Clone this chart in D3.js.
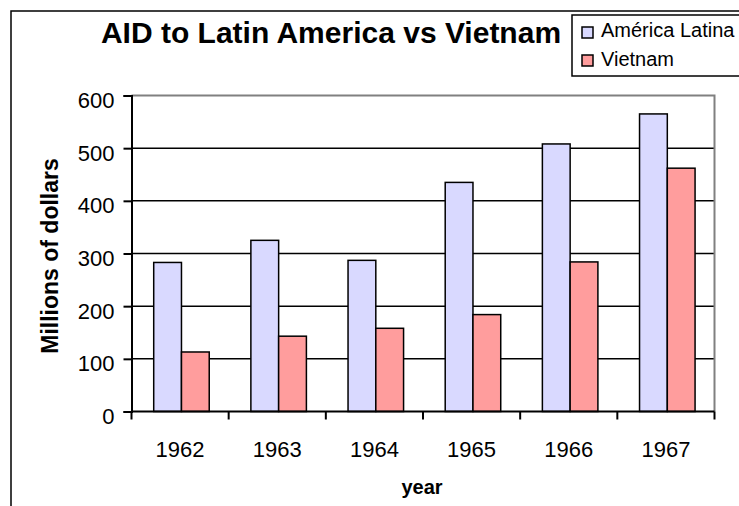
<!DOCTYPE html>
<html>
<head>
<meta charset="utf-8">
<script src="https://cdn.jsdelivr.net/npm/d3@7"></script>
<style>
  body { margin: 0; background: #fff; }
  text { font-family: Arial, "Liberation Sans", sans-serif; fill: #000; }
</style>
</head>
<body>
<script>
const years = ["1962", "1963", "1964", "1965", "1966", "1967"]
const latinAmerica = [283, 325, 287, 435, 508, 565]
const vietnam = [113, 143, 158, 184, 284, 462]
const seriesNames = ["América Latina", "Vietnam"]
const yTicks = [0, 100, 200, 300, 400, 500, 600]

const width = 739
const height = 506
const plotLeft = 131.5
const plotRight = 714.5
const plotTop = 95.5
const plotBottom = 411.5
const colors = ["#d9d9ff", "#ff9d9d"]

const svg = d3.select("body").append("svg")
  .attr("width", width)
  .attr("height", height)

// outer chart border (runs off the window on right and bottom)
svg.append("rect")
  .attr("x", 11).attr("y", 11)
  .attr("width", 760).attr("height", 520)
  .attr("fill", "none")
  .attr("stroke", "#000")
  .attr("stroke-width", 1.5)

const x = d3.scaleBand().domain(years).range([plotLeft, plotRight]).padding(0)
const y = d3.scaleLinear().domain([0, 600]).range([plotBottom, plotTop])

const barW = x.bandwidth() / 3.5
const pad = barW * 0.8

// grid lines
svg.append("g").selectAll("line")
  .data(yTicks.filter(d => d > 0 && d < 600))
  .enter().append("line")
  .attr("x1", plotLeft).attr("x2", plotRight)
  .attr("y1", d => y(d)).attr("y2", d => y(d))
  .attr("stroke", "#000").attr("stroke-width", 1.5)

// plot area border (top/right, gray)
svg.append("path")
  .attr("d", `M${plotLeft},${y(600)}H${plotRight}V${y(0)}`)
  .attr("fill", "none")
  .attr("stroke", "#808080")
  .attr("stroke-width", 2)

const data = years.map((yr, i) => ({ year: yr, values: [latinAmerica[i], vietnam[i]] }))

const groups = svg.selectAll(".grp")
  .data(data)
  .enter().append("g")
  .attr("class", "grp")
  .attr("transform", d => "translate(" + (x(d.year) + pad) + ",0)")

groups.selectAll("rect")
  .data(d => d.values)
  .enter().append("rect")
  .attr("x", (d, i) => i * barW)
  .attr("y", d => y(d))
  .attr("width", barW)
  .attr("height", d => y(0) - y(d))
  .attr("fill", (d, i) => colors[i])
  .attr("stroke", "#000")
  .attr("stroke-width", 1.5)

// y axis
const yAxis = d3.axisLeft(y).tickValues(yTicks).tickSize(8).tickPadding(9)
const yAxisGroup = svg.append("g")
  .attr("transform", "translate(" + plotLeft + ",0)")
  .call(yAxis)
yAxisGroup.select(".domain").attr("stroke", "#000").attr("stroke-width", 2)
yAxisGroup.selectAll(".tick line").attr("stroke", "#000").attr("stroke-width", 2)
yAxisGroup.selectAll(".tick text")
  .attr("y", 5)
  .style("font-family", "Arial, 'Liberation Sans', sans-serif")
  .style("font-size", "22px")

// x axis: ticks at category boundaries
const xAxisGroup = svg.append("g")
  .attr("transform", "translate(0," + plotBottom + ")")
xAxisGroup.append("line")
  .attr("x1", plotLeft).attr("x2", plotRight)
  .attr("stroke", "#000").attr("stroke-width", 2)
const bounds = years.map(d => x(d)).concat([plotRight])
xAxisGroup.selectAll(".xt")
  .data(bounds)
  .enter().append("line")
  .attr("x1", d => d).attr("x2", d => d)
  .attr("y1", 0).attr("y2", 8)
  .attr("stroke", "#000").attr("stroke-width", 2)
xAxisGroup.selectAll(".xl")
  .data(years)
  .enter().append("text")
  .attr("x", d => x(d) + x.bandwidth() / 2)
  .attr("y", 45)
  .attr("text-anchor", "middle")
  .style("font-size", "22px")
  .text(d => d)

// titles
svg.append("text")
  .attr("x", 331).attr("y", 43)
  .attr("text-anchor", "middle")
  .style("font-size", "30px")
  .style("font-weight", "bold")
  .text("AID to Latin America vs Vietnam")

svg.append("text")
  .attr("x", 422).attr("y", 494)
  .attr("text-anchor", "middle")
  .style("font-size", "20px")
  .style("font-weight", "bold")
  .text("year")

svg.append("text")
  .attr("transform", "translate(58,256) rotate(-90)")
  .attr("text-anchor", "middle")
  .style("font-size", "23px")
  .style("font-weight", "bold")
  .text("Millions of dollars")

// legend
const legend = svg.append("g")
legend.append("rect")
  .attr("x", 572).attr("y", 15)
  .attr("width", 180).attr("height", 61)
  .attr("fill", "#fff")
  .attr("stroke", "#000")
  .attr("stroke-width", 1.5)
seriesNames.forEach((name, i) => {
  legend.append("rect")
    .attr("x", 582).attr("y", 27 + i * 28)
    .attr("width", 11).attr("height", 11)
    .attr("fill", colors[i])
    .attr("stroke", "#000")
    .attr("stroke-width", 1.5)
  legend.append("text")
    .attr("x", 601).attr("y", 37 + i * 29)
    .style("font-size", "20px")
    .text(name)
})
</script>
</body>
</html>
